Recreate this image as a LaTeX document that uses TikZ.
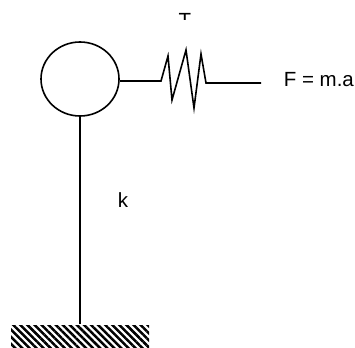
\documentclass[tikz,border=0pt]{standalone}
\usepackage{fontspec}
\setmainfont{Liberation Sans}
\usetikzlibrary{patterns.meta}
\usetikzlibrary{shapes.geometric}
\begin{document}
\begin{tikzpicture}[x=1pt,y=-1pt,inner sep=0pt,line width=1.6pt,
  lbl/.style={font=\fontsize{20.5}{20}\selectfont}]
\useasboundingbox (0,0) rectangle (355,347);
\node[draw,ellipse,minimum width=78pt,minimum height=74pt] (mass) at (80,79) {};
\node[minimum width=138pt,minimum height=22pt,pattern={Lines[angle=-45,distance=5pt,line width=2.5pt]}] (ground) at (80,336) {};
\coordinate (z0) at (161,81);
\coordinate (z1) at (168,56);
\coordinate (z2) at (172,100);
\coordinate (z3) at (186,50);
\coordinate (z4) at (194,108);
\coordinate (z5) at (201,54);
\coordinate (z6) at (206,83);
\coordinate (z7) at (261,83);

\draw (mass.south) -- (mass.south |- ground.north);
\draw (mass.east |- z0) -- (z0) -- (z1) -- (z2) -- (z3) -- (z4) -- (z5) -- (z6) -- (z7);

\begin{scope}
\clip (170,12) rectangle (200,20);
\node[lbl,anchor=north] (top) at (185,13) {T};
\end{scope}
\node[lbl,anchor=west] (force) at (283,80) {F = m.a};
\node[lbl] (stiff) at (123,200) {k};
\end{tikzpicture}
\end{document}
